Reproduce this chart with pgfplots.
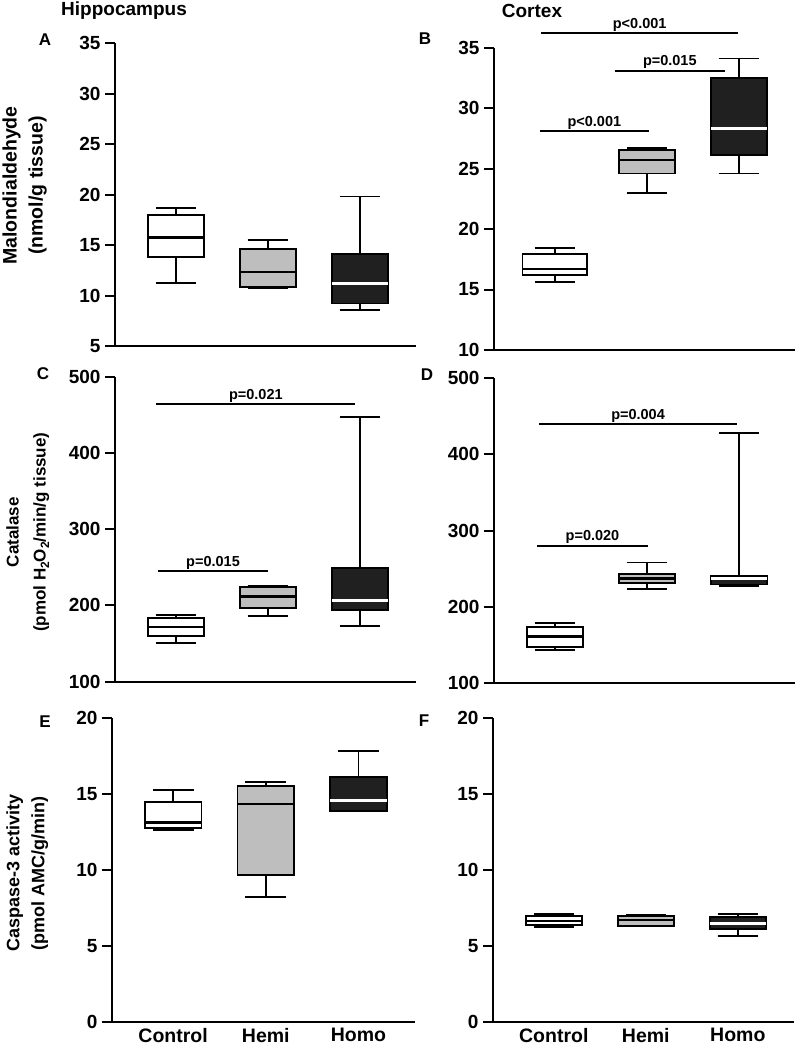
\documentclass[border=0pt]{standalone}
\usepackage{pgfplots}
\pgfplotsset{compat=1.18}
\usepgfplotslibrary{statistics}
\usepackage{fontspec}
\setmainfont{Liberation Sans}
\definecolor{hemigray}{RGB}{190,190,190}
\definecolor{homoblack}{RGB}{32,32,32}
\newcommand{\fsz}[1]{\fontsize{#1}{#1}\selectfont}
\newcommand{\sub}[1]{\raisebox{-0.22em}{\fontsize{12}{12}\selectfont #1}}
\tikzset{
  sig/.style={line width=2pt},
  sigtext/.style={font=\bfseries\fsz{14.5}, inner sep=1pt, anchor=south},
}
\pgfplotsset{
  panel/.style={
    scale only axis, width=301pt,
    disabledatascaling,
    xmin=34, xmax=361,
    axis lines=left, axis line style={-, line width=2pt},
    tick align=outside, major tick length=10pt,
    y tick style={line width=2pt, black},
    x tick style={draw=none},
    xtick=\empty,
    clip=false,
    /pgf/number format/assume math mode=true,
    tick label style={font=\bfseries\fsz{19}},
    yticklabel style={xshift=-1pt},
    ylabel style={font=\bfseries\fontsize{18}{25}\selectfont, align=center, anchor=center},
    boxplot/draw direction=y,
  },
  ctrl/.style={draw=black, fill=white, line width=1.8pt,
    boxplot/every median/.style={line width=2.8pt, black}},
  hemi/.style={draw=black, fill=hemigray, line width=1.8pt,
    boxplot/every median/.style={line width=2.4pt, black}},
  homo/.style={draw=black, fill=homoblack, line width=1.8pt,
    boxplot/every median/.style={line width=3pt, white}},
}
\begin{document}
\begin{tikzpicture}
\useasboundingbox (0,0) rectangle (800pt,-1050pt);
% column titles and panel letters
\node[font=\bfseries\fsz{19}] at (124pt,-11pt) {Hippocampus};
\node[font=\bfseries\fsz{19}] at (532pt,-11pt) {Cortex};
\node[font=\bfseries\fsz{17}] at (45pt,-40pt) {A};
\node[font=\bfseries\fsz{17}] at (425pt,-39pt) {B};
\node[font=\bfseries\fsz{17}] at (43pt,-374pt) {C};
\node[font=\bfseries\fsz{17}] at (427pt,-375pt) {D};
\node[font=\bfseries\fsz{17}] at (45pt,-722pt) {E};
\node[font=\bfseries\fsz{17}] at (424pt,-721pt) {F};

% ---------------- A ----------------
\begin{axis}[panel, at={(115pt,-346pt)}, anchor=south west, height=303pt,
  ymin=5, ymax=35, ytick={5,10,15,20,25,30,35},
  ylabel={Malondialdehyde\\(nmol/g tissue)},
  ylabel style={at={(axis description cs:-0.30,0.53)}, font=\bfseries\fontsize{19.5}{26}\selectfont}]
\addplot[ctrl, boxplot prepared={draw position=100, lower whisker=11.2, lower quartile=13.84, median=15.76, upper quartile=18.0, upper whisker=18.7, box extend=61, whisker extend=44}] coordinates {};
\addplot[hemi, boxplot prepared={draw position=200, lower whisker=10.75, lower quartile=10.85, median=12.3, upper quartile=14.6, upper whisker=15.5, box extend=61, whisker extend=44}] coordinates {};
\addplot[homo, boxplot prepared={draw position=300, lower whisker=8.6, lower quartile=9.2, median=11.2, upper quartile=14.1, upper whisker=19.8, box extend=61, whisker extend=44}] coordinates {};
\end{axis}

% ---------------- B ----------------
\begin{axis}[panel, at={(494pt,-350pt)}, anchor=south west, height=302.3pt,
  ymin=10, ymax=35, ytick={10,15,20,25,30,35}]
\addplot[ctrl, boxplot prepared={draw position=100, lower whisker=15.6, lower quartile=16.2, median=16.7, upper quartile=17.94, upper whisker=18.46, box extend=70, whisker extend=44}] coordinates {};
\addplot[hemi, boxplot prepared={draw position=200, lower whisker=23.0, lower quartile=24.6, median=25.7, upper quartile=26.57, upper whisker=26.7, box extend=61, whisker extend=44}] coordinates {};
\addplot[homo, boxplot prepared={draw position=300, lower whisker=24.6, lower quartile=26.1, median=28.3, upper quartile=32.5, upper whisker=34.1, box extend=61, whisker extend=44}] coordinates {};
\draw[sig] (axis cs:85.5,36.2) -- node[sigtext] {p<0.001} (axis cs:299,36.2);
\draw[sig] (axis cs:165,33.1) -- node[sigtext] {p=0.015} (axis cs:285,33.1);
\draw[sig] (axis cs:84,28.1) -- node[sigtext] {p<0.001} (axis cs:202,28.1);
\end{axis}

% ---------------- C ----------------
\begin{axis}[panel, at={(115pt,-681.7pt)}, anchor=south west, height=305pt,
  ymin=100, ymax=500, ytick={100,200,300,400,500},
  ylabel={Catalase\\(pmol H\sub{2}O\sub{2}/min/g tissue)},
  ylabel style={at={(axis description cs:-0.29,0.49)}, font=\bfseries\fontsize{17}{27}\selectfont}]
\addplot[ctrl, boxplot prepared={draw position=100, lower whisker=150.4, lower quartile=159.5, median=171.7, upper quartile=184, upper whisker=187.5, box extend=61, whisker extend=44}] coordinates {};
\addplot[hemi, boxplot prepared={draw position=200, lower whisker=186.6, lower quartile=197, median=211.5, upper quartile=224.6, upper whisker=225.9, box extend=61, whisker extend=44}] coordinates {};
\addplot[homo, boxplot prepared={draw position=300, lower whisker=173.4, lower quartile=194, median=207, upper quartile=249, upper whisker=446.7, box extend=61, whisker extend=44}] coordinates {};
\draw[sig] (axis cs:79,464) -- node[sigtext] {p=0.021} (axis cs:295,464);
\draw[sig] (axis cs:81,245) -- node[sigtext] {p=0.015} (axis cs:200,245);
\end{axis}

% ---------------- D ----------------
\begin{axis}[panel, at={(494pt,-682.7pt)}, anchor=south west, height=304.4pt,
  ymin=100, ymax=500, ytick={100,200,300,400,500}]
\addplot[ctrl, boxplot prepared={draw position=100, lower whisker=142.6, lower quartile=146.5, median=161, upper quartile=173.6, upper whisker=178, box extend=61, whisker extend=44}] coordinates {};
\addplot[hemi, boxplot prepared={draw position=200, lower whisker=222.7, lower quartile=231.4, median=237, upper quartile=242.8, upper whisker=258, box extend=61, whisker extend=44}] coordinates {};
\addplot[homo, boxplot prepared={draw position=300, lower whisker=227.5, lower quartile=229, median=237.5, upper quartile=240.6, upper whisker=427.7, box extend=61, whisker extend=44}] coordinates {};
\draw[sig] (axis cs:83,439.5) -- node[sigtext] {p=0.004} (axis cs:298,439.5);
\draw[sig] (axis cs:81,280) -- node[sigtext] {p=0.020} (axis cs:201,280);
\end{axis}

% ---------------- E ----------------
\begin{axis}[panel, at={(112pt,-1021.7pt)}, anchor=south west, height=303.4pt, width=303pt,
  ymin=0, ymax=20, ytick={0,5,10,15,20},
  xtick={100,200,300}, xticklabels={Control,Hemi,Homo},
  xticklabel style={font=\bfseries\fsz{19.5}, yshift=7pt},
  ylabel={Caspase-3 activity\\(pmol AMC/g/min)},
  ylabel style={at={(axis description cs:-0.28,0.49)}}]
\addplot[ctrl, boxplot prepared={draw position=100, lower whisker=12.64, lower quartile=12.79, median=13.12, upper quartile=14.48, upper whisker=15.27, box extend=61, whisker extend=44}] coordinates {};
\addplot[hemi, boxplot prepared={draw position=200, lower whisker=8.22, lower quartile=9.65, median=14.35, upper quartile=15.54, upper whisker=15.78, box extend=61, whisker extend=44}] coordinates {};
\addplot[homo, boxplot prepared={draw position=300, lower whisker=13.9, lower quartile=13.91, median=14.57, upper quartile=16.13, upper whisker=17.86, box extend=61, whisker extend=44}] coordinates {};
\end{axis}

% ---------------- F ----------------
\begin{axis}[panel, at={(493pt,-1021.7pt)}, anchor=south west, height=303.4pt,
  ymin=0, ymax=20, ytick={0,5,10,15,20},
  xtick={100,200,300}, xticklabels={Control,Hemi,Homo},
  xticklabel style={font=\bfseries\fsz{19.5}, yshift=7pt}]
\addplot[ctrl, boxplot prepared={draw position=100, lower whisker=6.26, lower quartile=6.37, median=6.64, upper quartile=6.97, upper whisker=7.1, box extend=61, whisker extend=44}] coordinates {};
\addplot[hemi, boxplot prepared={draw position=200, lower whisker=6.3, lower quartile=6.33, median=6.7, upper quartile=6.99, upper whisker=7.03, box extend=61, whisker extend=44}] coordinates {};
\addplot[homo, boxplot prepared={draw position=300, lower whisker=5.65, lower quartile=6.11, median=6.5, upper quartile=6.92, upper whisker=7.1, box extend=61, whisker extend=44}] coordinates {};
\end{axis}
\end{tikzpicture}
\end{document}
